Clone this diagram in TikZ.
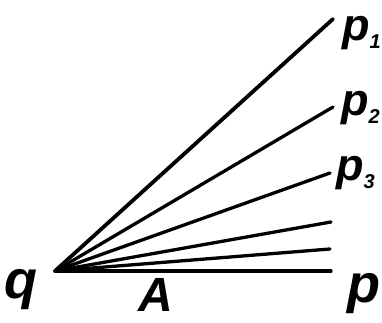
\documentclass[tikz,border=0pt]{standalone}
\usepackage{fontspec}
\setmainfont{Liberation Sans}
\newcommand{\plab}[1]{p\raisebox{-0.16em}{\fontsize{20}{20}\selectfont #1}}
\begin{document}
\begin{tikzpicture}[x=1pt,y=1pt]
\useasboundingbox (0,0) rectangle (382,323);
\tikzset{
  ray/.style={line width=3.3pt, line cap=round},
  lbl/.style={inner sep=0pt, anchor=base west},
  big/.style={font=\fontsize{54}{54}\selectfont\bfseries\itshape},
  mid/.style={font=\fontsize{45}{45}\selectfont\bfseries\itshape}
}
\coordinate (o) at (55,52);
\coordinate (e1) at (333,304);
\coordinate (e2) at (333,216);
\coordinate (e3) at (330,150);
\coordinate (e4) at (331,101);
\coordinate (e5) at (330,74);
\coordinate (e6) at (331,52);
\draw[ray, line width=3.8pt] (o) -- (e1);
\draw[ray] (o) -- (e2);
\draw[ray] (o) -- (e3);
\draw[ray] (o) -- (e4);
\draw[ray] (o) -- (e5);
\draw[ray] (o) -- (e6);
\node[lbl, mid] (p1) at (342,282) {\plab{1}};
\node[lbl, mid] (p2) at (341,207) {\plab{2}};
\node[lbl, mid] (p3) at (336,142) {\plab{3}};
\node[lbl, big] (p) at (347,20) {p};
\node[lbl, big] (q) at (4,24) {q};
\node[lbl, font=\fontsize{48}{48}\selectfont\bfseries\itshape] (A) at (138,11) {A};
\end{tikzpicture}
\end{document}
